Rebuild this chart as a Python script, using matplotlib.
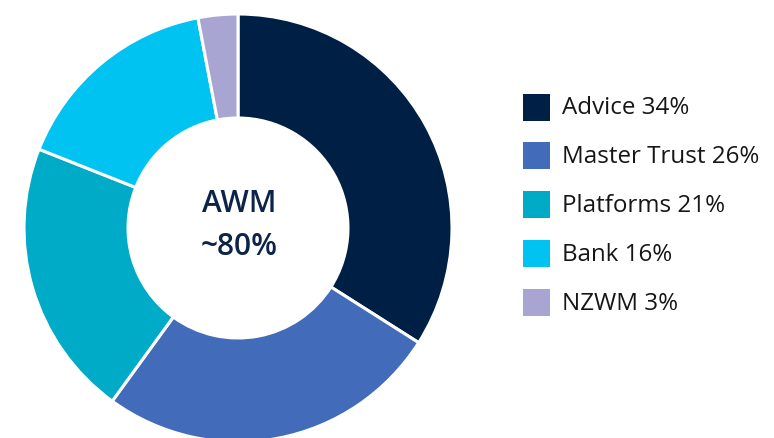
import matplotlib
matplotlib.use("Agg")
import matplotlib.pyplot as plt
from matplotlib.patches import Rectangle

categories = ["Advice", "Master Trust", "Platforms", "Bank", "NZWM"]
shares = [34, 26, 21, 16, 3]
colors = ["#001F44", "#426BB9", "#00ABC7", "#00C3F1", "#A9A5D3"]
center_lines = ["AWM", "~80%"]

W, H = 774, 438
fig = plt.figure(figsize=(W / 100, H / 100), dpi=100)
ax = fig.add_axes([0, 0, 1, 1])

cx, cy, r = 238, H - 228, 214
ax.pie(
    shares,
    colors=colors,
    startangle=90,
    counterclock=False,
    center=(cx, cy),
    radius=r,
    wedgeprops=dict(width=r * 0.486, edgecolor="white", linewidth=2.2),
)
ax.set_xlim(0, W)
ax.set_ylim(0, H)
ax.set_aspect("equal")
ax.axis("off")

font = "Open Sans"
ax.text(cx + 1, H - 204, center_lines[0], ha="center", va="center",
        fontsize=21.5, fontweight="semibold", color="#0B2447", family=font)
ax.text(cx + 1, H - 247, center_lines[1], ha="center", va="center",
        fontsize=21.5, fontweight="semibold", color="#0B2447", family=font)

for i, (name, val, col) in enumerate(zip(categories, shares, colors)):
    yc = H - (107 + i * 48.9)
    ax.add_patch(Rectangle((523, yc - 13.5), 27, 27, facecolor=col, edgecolor="none"))
    ax.text(562, yc - 1, f"{name} {val}%", ha="left", va="center",
            fontsize=17.4, color="#161616", family=font)

fig.savefig("out.png", dpi=100)
